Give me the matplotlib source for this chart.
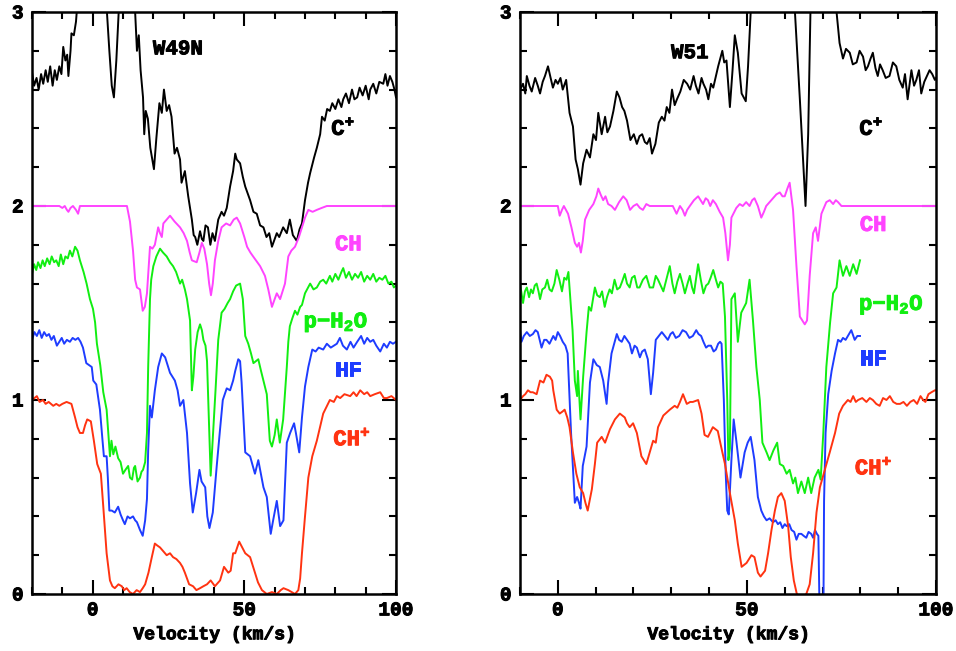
import matplotlib
matplotlib.use("Agg")
import matplotlib.pyplot as plt
import matplotlib.patheffects as pe
from matplotlib.ticker import MultipleLocator

plt.rcParams['font.family'] = ['Liberation Mono', 'DejaVu Sans Mono']
plt.rcParams['font.weight'] = 'bold'
plt.rcParams['mathtext.fontset'] = 'custom'
plt.rcParams['mathtext.rm'] = 'Liberation Mono:bold'
plt.rcParams['mathtext.it'] = 'Liberation Mono:bold'
plt.rcParams['mathtext.bf'] = 'Liberation Mono:bold'

# ---------------- W49N ----------------
w49_cp_v = [-20, -19.3, -18.5, -17.8, -17, -16.3, -15.5, -14.8, -14, -13.2, -12.5, -11.8, -11, -10.3,
            -9.7, -9, -8.4, -8, -7.3, -7, -6.2, -5.5, -5, 0, 4.7, 5.5, 6.3, 7, 7.8, 8.7, 11, 14,
            14.6, 15.2, 15.8, 16.6, 17, 17.5, 18.2, 19, 20.2, 21, 22, 22.8, 23.5, 24.4, 25.2, 26, 27,
            27.8, 28.8, 29.3, 30.4, 31.5, 32.7, 33.3, 33.8, 34.5, 35.4, 36, 36.5, 37.2, 38, 38.8,
            39.5, 40.3, 41.4, 42.5, 43.3, 44.2, 45.3, 46.3, 47, 47.5, 48.6, 49.5, 50.3, 51.2, 51.9,
            53, 54.1, 55.2, 56.3, 57.3, 58.2, 59.1, 60, 60.7, 61.5, 62.8, 64, 65, 66, 67.3, 68.2, 69,
            70, 71, 71.7, 73, 73.9, 75, 75.6, 76.5, 77.3, 78.2, 79, 80, 81, 82, 82.6, 83.5, 84.5,
            85.5, 86.3, 87.2, 88, 89, 90, 91, 91.5, 92.5, 93.5, 94.5, 95.8, 96.5, 97.2, 98, 98.8,
            99.5, 100]
w49_cp_y = [2.69, 2.62, 2.66, 2.60, 2.68, 2.63, 2.70, 2.64, 2.72, 2.62, 2.70, 2.65, 2.72, 2.68,
            2.82, 2.75, 2.78, 2.67, 2.80, 2.89, 2.88, 2.95, 3.05, 3.5, 3.0, 2.8, 2.62, 2.56, 2.75,
            3.05, 3.5, 3.0, 2.80, 2.88, 2.70, 2.56, 2.37, 2.49, 2.45, 2.30, 2.19, 2.35, 2.53, 2.48,
            2.60, 2.49, 2.52, 2.46, 2.27, 2.30, 2.24, 2.12, 2.18, 2.05, 1.93, 1.85, 1.84, 1.80, 1.87,
            1.83, 1.82, 1.90, 1.89, 1.80, 1.86, 1.82, 1.93, 1.97, 1.95, 1.99, 2.10, 2.18, 2.27, 2.24,
            2.22, 2.15, 2.10, 2.06, 2.03, 1.97, 1.96, 1.90, 1.89, 1.84, 1.86, 1.79, 1.83, 1.86, 1.84,
            1.89, 1.86, 1.93, 1.85, 1.82, 1.88, 1.91, 2.03, 2.12, 2.17, 2.25, 2.30, 2.37, 2.46, 2.44,
            2.50, 2.49, 2.53, 2.50, 2.55, 2.51, 2.55, 2.58, 2.53, 2.60, 2.55, 2.56, 2.61, 2.57, 2.62,
            2.55, 2.60, 2.63, 2.58, 2.64, 2.63, 2.68, 2.62, 2.67, 2.64, 2.60, 2.56]

w49_ch_v = [-20, -11, -10, -9.2, -8.5, -8, -7.3, -6.5, -5.5, -4.8, -4.2, 11.3, 12.3, 13.3, 14, 14.6,
            15.6, 16.5, 17.2, 17.9, 18.9, 19.7, 20.5, 21.6, 22.2, 22.8, 23.3, 24.4, 25.5, 27, 28.8,
            30, 31.1, 32, 32.7, 34.3, 35.2, 36, 36.8, 37.7, 38.4, 39, 39.6, 40.3, 41.4, 42.5, 44,
            45.3, 46.5, 47.5, 48.6, 50, 50.9, 52, 52.9, 55.2, 56.8, 57.9, 59.1, 60, 60.7, 61.8, 63.4,
            64.5, 65.5, 66.7, 68, 69, 70, 71.1, 72.5, 73.9, 75.5, 77.2, 100]
w49_ch_y = [2.0, 2.0, 1.99, 2.0, 1.98, 1.97, 1.99, 2.0, 1.98, 1.96, 2.0, 2.0, 1.92, 1.77, 1.62, 1.58,
            1.57, 1.46, 1.48, 1.55, 1.79, 1.78, 1.80, 1.89, 1.86, 1.84, 1.91, 1.93, 1.95, 1.92, 1.89,
            1.86, 1.82, 1.76, 1.72, 1.71, 1.76, 1.81, 1.78, 1.70, 1.60, 1.54, 1.60, 1.72, 1.82, 1.89,
            1.91, 1.90, 1.93, 1.94, 1.91, 1.84, 1.79, 1.76, 1.74, 1.69, 1.64, 1.57, 1.48, 1.52, 1.55,
            1.52, 1.60, 1.74, 1.77, 1.79, 1.84, 1.89, 1.94, 1.98, 1.97, 1.98, 1.99, 2.0, 2.0]

w49_h2o_v = [-20, -19.3, -18.6, -18, -17.2, -16.5, -15.8, -15, -14.2, -13.5, -12.7, -12, -11.2, -10.5,
             -9.7, -9, -8.2, -7.5, -6.7, -5.8, -5, -4.2, -3, -2, -0.9, 0.1, 0.8, 1.4, 2.5, 3.5, 4.6,
             5.7, 6.2, 6.8, 7.5, 8.4, 9.2, 10, 10.8, 11.7, 12.3, 13, 13.6, 14, 14.8, 15.6, 16.1, 16.6,
             17.3, 17.9, 18.3, 18.9, 19.3, 20, 21, 22.2, 23.2, 24.4, 25.5, 26.5, 27.5, 28.8, 29.5,
             30.4, 31.1, 32.1, 32.7, 33.2, 33.8, 34.6, 35.4, 36, 36.5, 37.2, 37.7, 38.3, 38.9, 39.7,
             40.5, 41.4, 42.5, 43.5, 44.5, 45.3, 46.3, 47.3, 48.6, 49.5, 50.3, 51.3, 52.2, 53, 54.6,
             55.5, 56.3, 57.4, 58.4, 59.1, 60, 60.7, 61.7, 62.8, 64, 64.5, 65, 65.8, 66.7, 67.5, 68.4,
             69, 70, 71, 71.7, 72.8, 73.9, 75, 76, 77, 78.2, 79, 80, 81, 82, 82.6, 83.5, 84.5, 85.5,
             86.5, 87.5, 88.5, 89.5, 90.5, 91.5, 92.5, 93.5, 94.5, 95.5, 96.5, 97.5, 98.5, 99.3, 100]
w49_h2o_y = [1.65, 1.70, 1.67, 1.71, 1.68, 1.72, 1.69, 1.73, 1.70, 1.74, 1.71, 1.72, 1.69, 1.75,
             1.70, 1.74, 1.73, 1.77, 1.74, 1.79, 1.77, 1.72, 1.66, 1.60, 1.52, 1.47, 1.40, 1.29, 1.18,
             1.04, 0.95, 0.71, 0.79, 0.72, 0.76, 0.70, 0.68, 0.62, 0.64, 0.66, 0.60, 0.59, 0.65, 0.66,
             0.58, 0.60, 0.63, 0.64, 0.68, 0.83, 1.17, 1.52, 1.62, 1.69, 1.74, 1.78, 1.76, 1.74, 1.71,
             1.69, 1.66, 1.60, 1.62, 1.57, 1.52, 1.41, 1.05, 1.12, 1.26, 1.35, 1.39, 1.36, 1.31, 1.28,
             1.20, 0.90, 0.61, 0.83, 1.05, 1.31, 1.45, 1.47, 1.50, 1.52, 1.56, 1.59, 1.60, 1.52, 1.33,
             1.29, 1.24, 1.19, 1.21, 1.15, 1.10, 1.03, 0.79, 0.76, 0.82, 0.90, 0.78, 0.90, 1.17, 1.30,
             1.38, 1.42, 1.46, 1.44, 1.48, 1.49, 1.55, 1.58, 1.60, 1.57, 1.58, 1.61, 1.62, 1.60, 1.64,
             1.61, 1.65, 1.62, 1.66, 1.68, 1.63, 1.66, 1.62, 1.65, 1.63, 1.66, 1.61, 1.64, 1.62, 1.65,
             1.61, 1.63, 1.62, 1.64, 1.60, 1.61, 1.58, 1.59]

w49_hf_v = [-20, -19.2, -18.4, -17.6, -16.8, -16, -15.2, -14.4, -13.6, -12.8, -11.8, -11, -10.2, -9.4,
            -8.5, -7.5, -6.6, -5.7, -4.8, -4, -3.2, -2.1, -1.2, -0.3, 0.2, 1.2, 2.4, 3.2, 3.7, 4.6, 5,
            5.5, 6.3, 7.3, 8.4, 9.2, 10, 10.6, 11.5, 12.3, 13.3, 14, 14.6, 15.6, 16.5, 17.3, 17.9,
            18.3, 18.9, 19.5, 20.5, 21.6, 22.8, 23.9, 25.5, 27.1, 28, 28.8, 29.9, 31.1, 32.1, 33,
            34.1, 35.2, 35.9, 37.1, 37.8, 38.5, 39.6, 40.9, 42, 42.9, 44.2, 45.3, 46.3, 47, 48, 48.6,
            49.1, 50.3, 51.9, 53.5, 54.6, 56.3, 57.4, 58.7, 59.5, 60.7, 61.8, 62.9, 64, 65.1, 66.4,
            67, 68.1, 69, 70, 71.1, 72.4, 73.5, 74.5, 76, 77.2, 78.5, 80.5, 81.5, 82.5, 83.8, 85, 86,
            87.2, 88.5, 89.5, 90.5, 91.5, 92.5, 93.5, 94.8, 96, 97, 98, 99, 100]
w49_hf_y = [1.31, 1.35, 1.33, 1.36, 1.32, 1.35, 1.33, 1.34, 1.31, 1.33, 1.28, 1.30, 1.32, 1.29,
            1.31, 1.30, 1.32, 1.31, 1.32, 1.30, 1.27, 1.19, 1.18, 1.17, 1.10, 1.08, 0.95, 0.80, 0.71,
            0.71, 0.60, 0.43, 0.43, 0.42, 0.45, 0.41, 0.38, 0.36, 0.40, 0.39, 0.40, 0.38, 0.37, 0.33,
            0.30, 0.38, 0.49, 0.74, 0.97, 0.91, 1.05, 1.17, 1.24, 1.22, 1.14, 1.10, 1.05, 0.97, 1.00,
            0.83, 0.57, 0.42, 0.52, 0.64, 0.58, 0.55, 0.40, 0.34, 0.42, 0.66, 0.85, 1.00, 1.06, 1.05,
            1.10, 1.15, 1.21, 1.20, 1.09, 0.73, 0.71, 0.62, 0.69, 0.55, 0.50, 0.31, 0.38, 0.48, 0.35,
            0.38, 0.78, 0.83, 0.88, 0.83, 0.73, 0.91, 1.07, 1.17, 1.26, 1.25, 1.27, 1.26, 1.29, 1.27,
            1.29, 1.32, 1.28, 1.26, 1.30, 1.27, 1.30, 1.33, 1.29, 1.32, 1.30, 1.31, 1.28, 1.25, 1.29,
            1.27, 1.30, 1.29, 1.30]

w49_chp_v = [-20, -19.2, -18.4, -17.5, -16.4, -15.5, -14.5, -13, -12, -11, -10, -8.6, -7, -5.8, -5,
             -4.2, -3.2, -2.5, -1.8, -0.6, 0.4, 1.5, 2.7, 3.5, 4.6, 5.7, 6.5, 7.3, 8.5, 9.6, 10.4,
             11.2, 12.2, 13.3, 14.5, 15.6, 16.5, 17.3, 18.4, 19.5, 20.5, 21.3, 22.2, 23.3, 24.4, 25.5,
             26.5, 27.6, 28.8, 29.6, 30.4, 31.1, 31.8, 33.1, 34.2, 35.4, 36.5, 37.7, 38.9, 40.3, 42,
             43.3, 44.7, 45.5, 46.3, 47, 48.3, 49.3, 50.3, 51.9, 53.5, 54.5, 55.8, 57.4, 59.1, 60.7,
             62, 62.9, 64.5, 66.7, 67.8, 68.4, 69, 70, 71.1, 72.4, 73.9, 76, 78.2, 79.5, 80.5, 81.6,
             83, 84.9, 86, 87, 88.2, 89.5, 90.5, 91.5, 93, 94.8, 96, 97, 98.5, 100]
w49_chp_y = [1.0, 1.01, 1.02, 0.99, 1.0, 0.98, 0.99, 0.97, 0.98, 0.97, 0.98, 0.99, 0.98, 0.91, 0.86,
             0.83, 0.83, 0.87, 0.90, 0.89, 0.79, 0.67, 0.62, 0.45, 0.21, 0.07, 0.04, 0.03, 0.05, 0.04,
             0.02, 0.03, 0.01, 0.0, 0.02, 0.01, 0.03, 0.05, 0.11, 0.19, 0.26, 0.25, 0.24, 0.22, 0.20,
             0.21, 0.19, 0.18, 0.16, 0.14, 0.11, 0.08, 0.05, 0.04, 0.02, 0.03, 0.04, 0.05, 0.07, 0.04,
             0.07, 0.14, 0.11, 0.12, 0.21, 0.21, 0.27, 0.24, 0.21, 0.19, 0.11, 0.06, 0.02, 0.0, 0.01,
             0.0, 0.02, 0.03, 0.02, 0.0, 0.02, 0.08, 0.21, 0.40, 0.60, 0.71, 0.79, 0.93, 1.0, 0.99,
             1.02, 1.01, 1.03, 1.02, 1.04, 1.02, 1.05, 1.03, 1.04, 1.02, 1.03, 1.04, 1.01, 1.01, 1.02,
             1.0]

# ---------------- W51 ----------------
w51_cp_v = [-10, -9.2, -8.6, -8.2, -7.5, -6.9, -6, -5.3, -4.7, -4, -3.4, -2.6, -1.9, -1.3, -0.6, 0,
            0.7, 1.3, 2.2, 3.1, 4, 4.7, 5.3, 6, 6.7, 7.6, 8.5, 9.4, 10.1, 10.7, 11.6, 12.5, 13.1,
            13.8, 14.7, 15.6, 16.3, 17, 17.6, 18.3, 19.2, 20.1, 20.9, 21.6, 22.3, 23, 23.6, 24.3,
            24.9, 25.8, 26.7, 27.5, 28.2, 28.8, 29.5, 30.2, 30.9, 31.5, 32.4, 33.3, 34.2, 35, 35.9,
            36.5, 37.2, 38, 38.5, 39.2, 39.8, 40.5, 41.1, 42.4, 43.5, 44, 44.6, 45.5, 46.2, 46.8,
            47.6, 48.6, 49.7, 50.3, 51, 57, 62.7, 64, 65.5, 66.2, 66.8, 70, 73.7, 74.5, 75.4, 76.2,
            77.2, 78, 79, 79.8, 80.7, 81.4, 82, 82.7, 83.3, 84, 84.6, 85.2, 85.9, 86.7, 87.7, 88.6,
            89.5, 90.3, 91.2, 91.8, 92.5, 93.5, 94.2, 94.8, 95.5, 96.1, 96.9, 97.6, 98.3, 99, 99.7,
            100]
w51_cp_y = [2.60, 2.63, 2.58, 2.67, 2.62, 2.59, 2.66, 2.62, 2.58, 2.64, 2.67, 2.72, 2.66, 2.61, 2.65,
            2.63, 2.66, 2.60, 2.65, 2.48, 2.41, 2.24, 2.19, 2.11, 2.22, 2.29, 2.25, 2.37, 2.34, 2.48,
            2.37, 2.46, 2.38, 2.41, 2.49, 2.59, 2.56, 2.51, 2.49, 2.44, 2.34, 2.37, 2.32, 2.36, 2.37,
            2.33, 2.32, 2.35, 2.27, 2.32, 2.43, 2.46, 2.44, 2.51, 2.48, 2.60, 2.52, 2.55, 2.59, 2.65,
            2.63, 2.60, 2.67, 2.62, 2.58, 2.66, 2.63, 2.60, 2.55, 2.63, 2.61, 2.72, 2.80, 2.74, 2.75,
            2.51, 2.70, 2.88, 2.79, 2.58, 2.54, 2.72, 3.0, 3.4, 3.0, 2.55, 2.0, 2.37, 3.0, 3.4, 3.0,
            2.84, 2.76, 2.81, 2.79, 2.73, 2.74, 2.80, 2.77, 2.70, 2.72, 2.76, 2.79, 2.71, 2.67, 2.73,
            2.70, 2.66, 2.67, 2.74, 2.72, 2.65, 2.61, 2.68, 2.55, 2.70, 2.62, 2.65, 2.70, 2.58, 2.64,
            2.67, 2.70, 2.68, 2.65, 2.66]

w51_ch_v = [-10, 0, 0.5, 1.1, 1.6, 2.7, 3.6, 4.5, 5.1, 5.6, 6.1, 6.6, 7.2, 8.3, 9.4, 10.2, 10.7, 11.3,
            12, 12.6, 13.3, 14.2, 15.1, 16.2, 17.3, 18.2, 19.1, 20, 20.9, 21.7, 22.5, 23.4, 24.3,
            30.4, 31.4, 32.3, 33, 33.6, 34.2, 34.9, 36, 37.1, 38.4, 39.1, 39.7, 40.3, 41, 41.8, 42.8,
            43.7, 44.3, 45, 45.5, 45.9, 47.2, 48.1, 48.9, 49.8, 50.7, 51.4, 52, 52.9, 53.8, 54.5,
            55.1, 56, 56.9, 57.8, 58.7, 59.4, 60, 60.7, 61.3, 62.2, 63.1, 64, 65.3, 65.9, 66.6, 67.5,
            68.2, 68.8, 69.7, 71, 71.9, 72.8, 73.5, 74.1, 75, 100]
w51_ch_y = [2.0, 2.0, 1.95, 1.98, 2.0, 1.96, 1.89, 1.81, 1.79, 1.81, 1.76, 1.82, 1.93, 1.98, 2.01,
            2.05, 2.09, 2.06, 2.03, 2.05, 2.01, 2.00, 1.98, 2.02, 2.05, 2.03, 1.98, 2.00, 2.01, 1.99,
            1.98, 2.01, 2.0, 2.0, 1.96, 2.0, 1.98, 1.95, 1.98, 2.0, 2.03, 2.05, 2.01, 2.04, 2.03, 2.0,
            2.03, 2.01, 1.97, 1.94, 1.86, 1.72, 1.80, 1.94, 1.99, 2.01, 2.0, 2.02, 2.0, 2.03, 2.04,
            2.0, 1.94, 1.97, 2.0, 2.02, 2.04, 2.06, 2.07, 2.05, 2.05, 2.09, 2.12, 1.98, 1.69, 1.43,
            1.39, 1.41, 1.64, 1.86, 1.89, 1.82, 1.96, 2.02, 2.03, 2.01, 2.03, 2.02, 2.0, 2.0]

w51_h2o_v = [-10, -9.6, -9.2, -8.7, -8.2, -7.6, -7.1, -6.6, -6.1, -5.6, -5.1, -4.7, -4.1, -3.4, -2.8,
             -2.2, -1.6, -0.9, -0.3, 0.4, 1.1, 1.7, 2.3, 2.8, 3.2, 3.9, 4.5, 5.1, 5.3, 6, 6.7, 7.6,
             8.2, 8.8, 9.3, 9.8, 10.4, 11.1, 11.7, 12.4, 13, 13.7, 14.3, 15, 15.7, 16.4, 17, 17.7,
             18.3, 19, 19.6, 20.3, 21, 21.6, 22.5, 23.4, 24.3, 25.2, 25.9, 26.5, 27.2, 27.9, 28.8,
             29.6, 30.3, 30.9, 31.6, 32.3, 33, 33.6, 34.3, 34.9, 35.5, 36, 36.6, 37.1, 37.8, 38.5,
             39.2, 39.8, 40.4, 41.1, 41.8, 42.4, 43, 43.6, 44.2, 44.8, 45.1, 45.5, 45.9, 46.8, 47.6,
             48.5, 49.8, 50.7, 51.6, 52.5, 53.4, 54.1, 55.2, 56, 57, 58, 58.7, 59.6, 60.5, 61.3, 62.2,
             62.8, 63.5, 64.4, 65.3, 66.2, 67, 67.9, 68.9, 69.5, 70.2, 71, 72, 72.8, 73.7, 74.5, 75.4,
             76.3, 77.2, 78.1, 79, 79.9]
w51_h2o_y = [1.60, 1.55, 1.50, 1.56, 1.58, 1.53, 1.57, 1.55, 1.59, 1.60, 1.56, 1.52, 1.57, 1.58,
             1.62, 1.57, 1.56, 1.60, 1.67, 1.62, 1.56, 1.63, 1.62, 1.66, 1.55, 1.36, 1.10, 1.02, 1.15,
             0.90, 1.12, 1.35, 1.48, 1.46, 1.52, 1.58, 1.54, 1.53, 1.56, 1.48, 1.53, 1.57, 1.55, 1.62,
             1.57, 1.58, 1.61, 1.65, 1.60, 1.58, 1.63, 1.64, 1.58, 1.58, 1.62, 1.64, 1.58, 1.58, 1.64,
             1.62, 1.59, 1.56, 1.63, 1.69, 1.60, 1.55, 1.61, 1.65, 1.60, 1.55, 1.60, 1.64, 1.58, 1.55,
             1.63, 1.70, 1.62, 1.55, 1.59, 1.60, 1.63, 1.67, 1.62, 1.58, 1.61, 1.60, 1.43, 1.0, 0.69,
             0.75, 1.52, 1.55, 1.30, 1.45, 1.50, 1.62, 1.41, 1.17, 1.0, 0.78, 0.73, 0.69, 0.74, 0.78,
             0.67, 0.66, 0.62, 0.64, 0.57, 0.60, 0.52, 0.58, 0.52, 0.60, 0.52, 0.60, 0.64, 0.59, 0.83,
             1.17, 1.40, 1.55, 1.58, 1.72, 1.64, 1.69, 1.64, 1.70, 1.65, 1.72]

w51_hf_v = [-10, -9.6, -9, -8.2, -7.4, -6.6, -5.9, -5.3, -4.3, -3.6, -3, -2.2, -1.2, -0.6, 0, 0.6, 1.3,
            2, 2.6, 3.5, 4.5, 5.1, 5.6, 6, 6.6, 7.6, 8.5, 9.4, 10.3, 11.1, 12, 12.9, 13.3, 14.2, 15.6,
            16.2, 16.9, 17.6, 18.3, 19, 19.6, 20.3, 20.9, 21.7, 22.3, 23, 23.8, 24.6, 25.2, 25.9,
            26.7, 27.5, 28.3, 29.1, 29.8, 30.4, 31.2, 32.1, 33, 33.9, 34.8, 35.7, 36.6, 37.2, 37.9,
            38.5, 39.2, 39.8, 40.5, 41.2, 41.8, 42.4, 42.9, 43.3, 43.9, 44.4, 44.8, 45.2, 45.9, 46.5,
            47.2, 48.3, 49.4, 50.2, 51, 52, 52.9, 53.8, 54.5, 55.2, 56, 56.9, 57.6, 58.2, 58.8, 59.4,
            60, 60.5, 61.2, 61.8, 62.5, 63.1, 63.7, 64.4, 65, 65.7, 66.3, 67, 67.5, 68, 68.5, 68.9,
            69.3, 70.2, 70.4, 70.8, 71.5, 72.4, 73.3, 74.1, 74.8, 75.4, 76.1, 76.7, 77.6, 78.5, 79.2,
            79.9]
w51_hf_y = [1.36, 1.30, 1.33, 1.35, 1.33, 1.34, 1.36, 1.35, 1.27, 1.31, 1.31, 1.29, 1.33, 1.31, 1.35,
            1.33, 1.30, 1.28, 1.24, 0.83, 0.47, 0.50, 0.47, 0.44, 0.66, 0.76, 1.09, 1.21, 1.18, 1.17,
            1.10, 0.98, 1.09, 1.24, 1.34, 1.31, 1.30, 1.33, 1.31, 1.29, 1.24, 1.28, 1.27, 1.22, 1.25,
            1.26, 1.21, 1.03, 1.14, 1.31, 1.33, 1.35, 1.33, 1.31, 1.34, 1.35, 1.32, 1.33, 1.36, 1.35,
            1.32, 1.33, 1.36, 1.34, 1.33, 1.30, 1.27, 1.28, 1.28, 1.25, 1.26, 1.29, 1.30, 1.29, 1.0,
            0.62, 0.43, 0.41, 0.69, 0.90, 0.79, 0.60, 0.73, 0.78, 0.81, 0.69, 0.50, 0.43, 0.40, 0.38,
            0.39, 0.37, 0.38, 0.36, 0.37, 0.34, 0.36, 0.35, 0.36, 0.33, 0.32, 0.28, 0.31, 0.31, 0.30,
            0.29, 0.32, 0.31, 0.29, 0.33, 0.31, 0.30, -0.2, -0.2, 0.48, 0.83, 1.03, 1.15, 1.24, 1.31,
            1.30, 1.32, 1.31, 1.33, 1.36, 1.31, 1.33, 1.33]

w51_chp_v = [-10, -9.2, -8.6, -7.9, -7.2, -6.6, -5.6, -4.7, -3.8, -3, -2.1, -1.5, -1.2, -0.3, 0.5, 1.2,
             1.8, 2.5, 3.1, 4, 4.9, 5.8, 6.7, 7.3, 7.9, 9, 9.8, 10.4, 11.6, 12.5, 13.8, 15.1, 16.4,
             17.7, 18.3, 19, 19.9, 20.9, 22.1, 23.4, 24.3, 25.2, 25.9, 26.5, 27.9, 29.6, 30.9, 31.6,
             32.3, 33.1, 34.1, 35, 35.7, 37.1, 38, 38.8, 39.7, 41, 42.3, 43.4, 44.2, 45.5, 46.8, 47.6,
             48.6, 49.9, 51.2, 52, 52.9, 53.6, 54.8, 55.6, 56.5, 57.4, 58.2, 59.1, 60, 60.9, 61.6,
             62.4, 63.2, 64.4, 65.7, 66.6, 67.5, 68.4, 69.3, 70.6, 71.9, 73.3, 74.4, 75.4, 76.7, 77.4,
             78.1, 78.8, 79.4, 80.5, 81.6, 82.5, 83.3, 84.2, 85.1, 86, 86.9, 87.8, 88.7, 89.6, 90.5,
             91.4, 92.3, 93.2, 94.1, 95, 95.9, 96.6, 97.2, 98, 98.8, 99.7, 100]
w51_chp_y = [1.0, 1.02, 1.03, 1.05, 1.04, 1.04, 1.03, 1.10, 1.09, 1.13, 1.12, 1.10, 1.05, 0.95, 0.93,
             0.94, 0.95, 0.91, 0.86, 0.73, 0.62, 0.55, 0.52, 0.47, 0.43, 0.54, 0.67, 0.78, 0.81, 0.78,
             0.85, 0.90, 0.93, 0.91, 0.88, 0.86, 0.88, 0.83, 0.71, 0.67, 0.73, 0.79, 0.78, 0.86, 0.92,
             0.95, 0.97, 0.96, 0.99, 1.03, 0.98, 0.99, 0.99, 1.0, 0.93, 0.82, 0.81, 0.86, 0.84, 0.74,
             0.67, 0.52, 0.38, 0.26, 0.14, 0.16, 0.20, 0.19, 0.11, 0.09, 0.12, 0.21, 0.33, 0.43, 0.50,
             0.52, 0.48, 0.35, 0.19, 0.07, 0.0, -0.02, 0.0, 0.05, 0.21, 0.42, 0.55, 0.64, 0.73, 0.83,
             0.93, 0.97, 1.0, 0.99, 1.02, 0.99, 1.0, 1.01, 0.99, 1.01, 1.0, 0.98, 0.97, 1.01, 1.0, 1.02,
             0.99, 0.98, 0.98, 0.99, 0.97, 0.99, 1.0, 0.98, 1.02, 1.0, 0.99, 1.03, 1.04, 1.05, 1.05]

col_cp = 'black'
col_ch = '#ff44ff'
col_h2o = '#11ee11'
col_hf = '#1e3cff'
col_chp = '#ff3311'

fig = plt.figure(figsize=(9.56, 6.51), dpi=100)
ax1 = fig.add_axes([32 / 956, 57 / 651, 364 / 956, 582 / 651])
ax2 = fig.add_axes([520 / 956, 57 / 651, 416 / 956, 582 / 651])

panels = [
    (ax1, (-20, 100), 'W49N',
     [(w49_cp_v, w49_cp_y, col_cp), (w49_ch_v, w49_ch_y, col_ch), (w49_h2o_v, w49_h2o_y, col_h2o),
      (w49_hf_v, w49_hf_y, col_hf), (w49_chp_v, w49_chp_y, col_chp)],
     (28.1, 2.81), [(82.6, 2.40), (84.3, 1.80), (80.2, 1.40), (84.3, 1.15), (85.5, 0.80)]),
    (ax2, (-10, 100), 'W51',
     [(w51_cp_v, w51_cp_y, col_cp), (w51_ch_v, w51_ch_y, col_ch), (w51_h2o_v, w51_h2o_y, col_h2o),
      (w51_hf_v, w51_hf_y, col_hf), (w51_chp_v, w51_chp_y, col_chp)],
     (34.9, 2.79), [(82.9, 2.40), (83.4, 1.90), (88.2, 1.49), (83.4, 1.21), (83.5, 0.65)]),
]
names = [r'C$^{+}$', 'CH', r'p$-$H$_2$O', 'HF', r'CH$^{+}$']
colors = [col_cp, col_ch, col_h2o, col_hf, col_chp]


def heavy(c):
    # thicken the thin mono glyphs a little
    return [pe.withStroke(linewidth=0.7, foreground=c)]


for ax, xlim, title, series, tpos, lpos in panels:
    for v, y, c in series:
        ax.plot(v, y, color=c, lw=1.4)
    ax.set_xlim(*xlim)
    ax.set_ylim(0, 3)
    ax.xaxis.set_major_locator(MultipleLocator(50))
    ax.xaxis.set_minor_locator(MultipleLocator(10))
    ax.yaxis.set_major_locator(MultipleLocator(1))
    ax.yaxis.set_minor_locator(MultipleLocator(0.2))
    ax.tick_params(which='both', direction='in', top=True, right=True, width=1.5)
    ax.tick_params(which='major', length=10, labelsize=14, pad=6)
    ax.tick_params(which='minor', length=5)
    for lab in ax.get_xticklabels() + ax.get_yticklabels():
        lab.set_fontweight('bold')
        lab.set_path_effects(heavy('black'))
    for s in ax.spines.values():
        s.set_linewidth(1.8)
    xl = ax.set_xlabel('Velocity (km/s)', fontsize=13, fontweight='bold', labelpad=5)
    xl.set_path_effects(heavy('black'))
    ax.text(tpos[0], tpos[1], title, fontsize=15, fontweight='bold', ha='center', va='center',
            path_effects=heavy('black'))
    for (x, y), n, c in zip(lpos, names, colors):
        ax.text(x, y, n, color=c, fontsize=16, fontweight='bold', ha='center', va='center',
                path_effects=heavy(c))

fig.savefig('out.png', dpi=100)
